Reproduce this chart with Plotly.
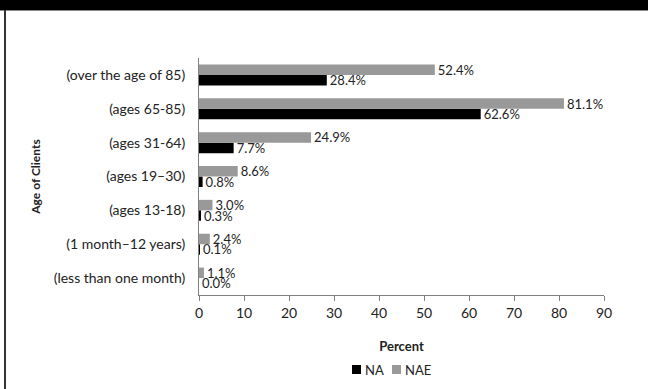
import plotly.graph_objects as go

categories = ["(less than one month)", "(1 month\u201312 years)", "(ages 13-18)",
              "(ages 19\u201330)", "(ages 31-64)", "(ages 65-85)", "(over the age of 85)"]
na_values = [0.0, 0.1, 0.3, 0.8, 7.7, 62.6, 28.4]
nae_values = [1.1, 2.4, 3.0, 8.6, 24.9, 81.1, 52.4]
x_ticks = [0, 10, 20, 30, 40, 50, 60, 70, 80, 90]
series_names = ["NA", "NAE"]
series_colors = ["#000000", "#999999"]

W, H = 648, 389
L, R, T, B = 199, 604, 58, 295
FONT = "Lato, 'Open Sans', sans-serif"

def px_x(p):
    return (p - L) / (R - L)

def px_y(p):
    return (B - p) / (B - T)

fig = go.Figure()
for name, vals, col in zip(series_names, [na_values, nae_values], series_colors):
    fig.add_trace(go.Bar(
        y=categories, x=vals, orientation="h", name=name,
        marker=dict(color=col, line=dict(width=0)),
        texttemplate="%{x:.1f}%", textposition="outside", constraintext="none",
        textfont=dict(size=13, color="#222222", family=FONT), cliponaxis=False,
        showlegend=False,
    ))

shapes = [
    dict(type="rect", xref="paper", yref="paper", x0=px_x(0), x1=px_x(W), y0=px_y(10), y1=px_y(0),
         fillcolor="black", line=dict(width=0), layer="above"),
    dict(type="line", xref="paper", yref="paper", x0=px_x(0), x1=px_x(W), y0=px_y(10.5), y1=px_y(10.5),
         line=dict(color="#888888", width=1)),
    dict(type="line", xref="paper", yref="paper", x0=px_x(5), x1=px_x(5), y0=px_y(H), y1=px_y(10),
         line=dict(color="#333333", width=2)),
]
annotations = []
# manual legend
leg_x = [352, 392]
for name, col, lx in zip(series_names, series_colors, leg_x):
    shapes.append(dict(type="rect", xref="paper", yref="paper",
                       x0=px_x(lx), x1=px_x(lx + 9), y0=px_y(374), y1=px_y(365),
                       fillcolor=col, line=dict(width=0)))
    annotations.append(dict(xref="paper", yref="paper", x=px_x(lx + 11), y=px_y(369.5),
                            xanchor="left", yanchor="middle", showarrow=False, text=name,
                            font=dict(size=13, color="#222222", family=FONT)))

fig.update_layout(
    width=W, height=H,
    margin=dict(l=L, r=W - R, t=T, b=H - B, pad=0),
    paper_bgcolor="white", plot_bgcolor="white",
    barmode="group", bargap=0.38, bargroupgap=0,
    font=dict(family=FONT, size=14, color="#222222"),
    showlegend=False,
    xaxis=dict(range=[0, 90], tickvals=x_ticks, showgrid=False, zeroline=False,
               showline=True, linecolor="#808080", linewidth=1,
               ticks="outside", ticklen=5, tickcolor="#808080",
               tickfont=dict(size=14, color="#222222"),
               title=dict(text="<b>Percent</b>", font=dict(size=13, color="#222222"), standoff=22)),
    yaxis=dict(showgrid=False, zeroline=False, showline=True, linecolor="#808080", linewidth=1,
               ticks="", ticklabelstandoff=10, tickfont=dict(size=14, color="#222222"),
               title=dict(text="<b>Age of Clients</b>", font=dict(size=12, color="#222222"), standoff=10)),
    shapes=shapes,
    annotations=annotations,
)

fig.write_html("out.html")
